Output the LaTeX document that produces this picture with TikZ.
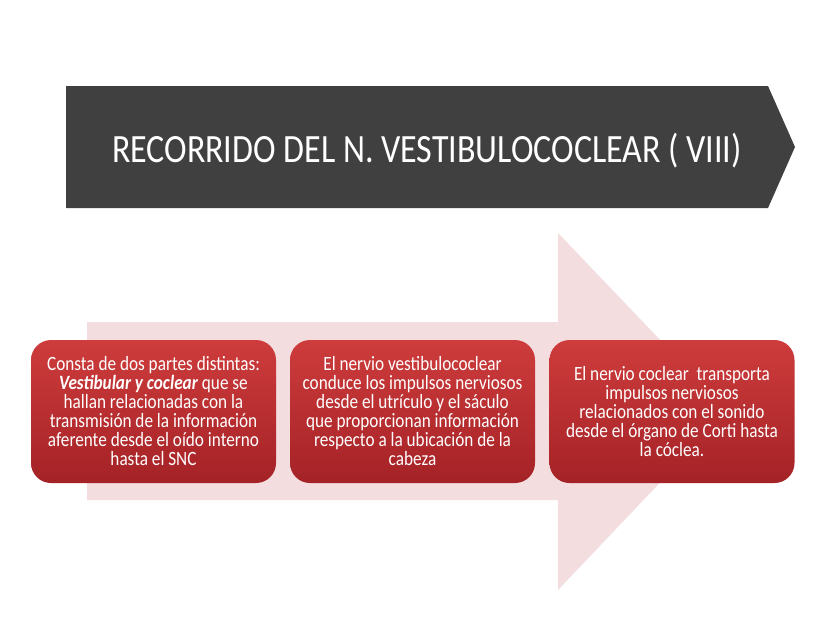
\documentclass[tikz,border=0pt]{standalone}
\usepackage{fontspec}
\setmainfont{Carlito}
\definecolor{titlegray}{RGB}{64,64,64}
\definecolor{pinkarrow}{RGB}{243,221,223}
\definecolor{boxtop}{RGB}{206,60,60}
\definecolor{boxbot}{RGB}{164,34,38}
\newcommand{\boxtext}[1]{\scalebox{1}[1.18]{\parbox{245pt}{\centering\fontsize{17.2}{16.1}\selectfont #1}}}
\begin{document}
\begin{tikzpicture}[x=1pt,y=-1pt,
  redbox/.style={rounded corners=20pt, top color=boxtop, bottom color=boxbot, draw=none,
    minimum width=245pt, minimum height=143pt, align=center,
    text=white, inner sep=0pt},
]
\useasboundingbox (0,0) rectangle (828,621);
\fill[white] (0,0) rectangle (828,621);
% title arrow
\fill[titlegray] (66,86) -- (768,86) -- (795,147) -- (768,208) -- (66,208) -- cycle;
\node[text=white, font=\fontsize{34}{40}\selectfont, anchor=center] (title) at (427,151) {\scalebox{1}[1.18]{RECORRIDO DEL N. VESTIBULOCOCLEAR ( VIII)}};
% big pink arrow
\fill[pinkarrow] (87,322) -- (558,322) -- (558,233) -- (728,411) -- (558,590) -- (558,500) -- (87,500) -- cycle;
% boxes
\node[redbox] (b1) at (153.5,411.5) {\boxtext{Consta de dos partes distintas:\\ \textbf{\textit{Vestibular y coclear}} que se\\ hallan relacionadas con la\\ transmisión de la información\\ aferente desde el oído interno\\ hasta el SNC}};
\node[redbox] (b2) at (412.5,411.5) {\boxtext{El nervio vestibulococlear\\ conduce los impulsos nerviosos\\ desde el utrículo y el sáculo\\ que proporcionan información\\ respecto a la ubicación de la\\ cabeza}};
\node[redbox] (b3) at (672,411.5) {\boxtext{El nervio coclear\ \ transporta\\ impulsos nerviosos\\ relacionados con el sonido\\ desde el órgano de Corti hasta\\ la cóclea.}};
\end{tikzpicture}
\end{document}
